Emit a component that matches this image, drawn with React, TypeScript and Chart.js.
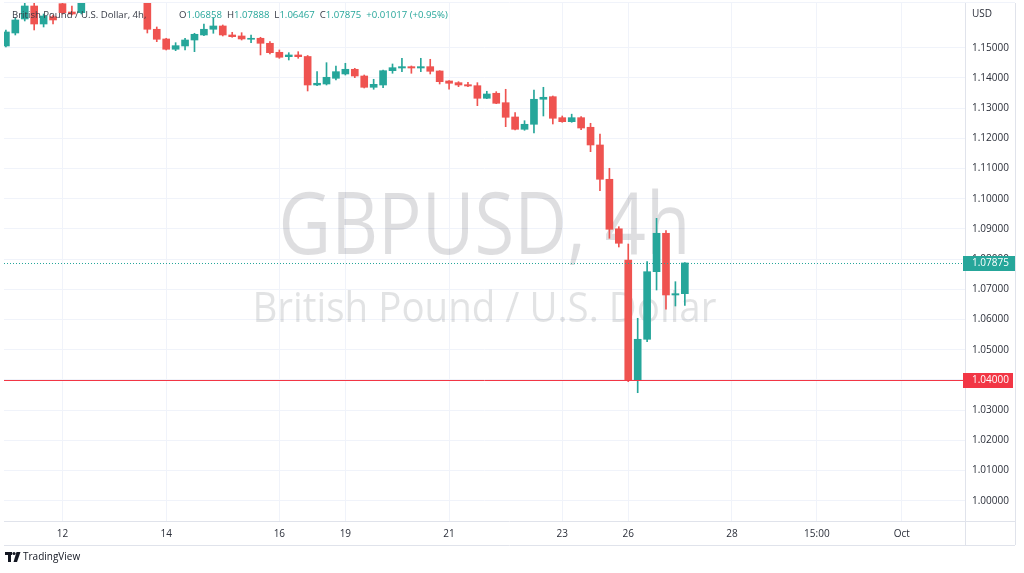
import React, { useEffect, useRef } from 'react';
import { Chart, registerables } from 'chart.js';

Chart.register(...registerables);

// ---- data (GBPUSD, 4h candles) ----
const firstCandleSlot = -66;
const opens = [
  1.1506, 1.1549, 1.15954, 1.16384, 1.15788, 1.1603, 1.1646, 1.16186, 1.16162,
  1.167, 1.1705, 1.1725, 1.1712, 1.17, 1.1695,
  1.1685, 1.15613, 1.15292, 1.14951, 1.1506, 1.15258, 1.15424, 1.15613, 1.15722,
  1.15424, 1.15391, 1.15282, 1.15315, 1.15149, 1.14851, 1.14706, 1.14762,
  1.14712, 1.13768, 1.13801, 1.1399, 1.14133, 1.14288, 1.14066, 1.13692, 1.13768,
  1.14242, 1.14331, 1.14375, 1.14331, 1.14375, 1.14232, 1.13901, 1.13845, 1.13778,
  1.13745, 1.13328, 1.13494, 1.13182, 1.12709, 1.12301, 1.12467, 1.13295, 1.13381,
  1.12686, 1.12553, 1.12686, 1.12368, 1.11782, 1.10646, 1.09007,
  1.07974, 1.0401, 1.05348, 1.07586, 1.08858, 1.06815, 1.06858,
];
const highs = [
  1.1559, 1.15987, 1.1655, 1.16517, 1.16119, 1.16086, 1.165, 1.16384, 1.169,
  1.1712, 1.1738, 1.1735, 1.1725, 1.1715, 1.171,
  1.17, 1.15689, 1.15315, 1.15169, 1.15315, 1.1548, 1.15788, 1.15977, 1.15755,
  1.15513, 1.155, 1.15424, 1.15348, 1.15202, 1.14927, 1.14838, 1.14871,
  1.14745, 1.14209, 1.14507, 1.14398, 1.14487, 1.14321, 1.14099, 1.13957, 1.14265,
  1.14464, 1.14652, 1.14398, 1.14652, 1.14619, 1.14242, 1.13911, 1.13878, 1.13858,
  1.13845, 1.1356, 1.13547, 1.13626, 1.12858, 1.12586, 1.13603, 1.13692, 1.13404,
  1.12742, 1.12802, 1.12719, 1.125, 1.12146, 1.1101, 1.09076,
  1.08503, 1.06043, 1.07917, 1.09354, 1.08944, 1.07255, 1.07888,
];
const lows = [
  1.15027, 1.15424, 1.15888, 1.1559, 1.15689, 1.15788, 1.16119, 1.16086, 1.16119,
  1.1662, 1.1695, 1.17, 1.169, 1.168, 1.1665,
  1.1549, 1.15202, 1.14927, 1.14904, 1.14927, 1.14871, 1.15401, 1.1548, 1.15391,
  1.15348, 1.15258, 1.15169, 1.14762, 1.14795, 1.14652, 1.14596, 1.14652,
  1.1357, 1.13745, 1.13768, 1.13934, 1.14099, 1.1401, 1.13669, 1.13626, 1.13679,
  1.14156, 1.14209, 1.14156, 1.14209, 1.14133, 1.13801, 1.13626, 1.13712, 1.13712,
  1.13083, 1.13315, 1.13149, 1.12388, 1.12278, 1.12268, 1.12179, 1.12742, 1.12477,
  1.12533, 1.12533, 1.12288, 1.1156, 1.10268, 1.08692, 1.08404,
  1.03944, 1.03579, 1.05268, 1.0698, 1.06341, 1.0645, 1.06467,
];
const closes = [
  1.15523, 1.15921, 1.16384, 1.15788, 1.16053, 1.15921, 1.16162, 1.16119, 1.167,
  1.1705, 1.1725, 1.1712, 1.17, 1.1695, 1.1685,
  1.15613, 1.15282, 1.14951, 1.1507, 1.15258, 1.15447, 1.15613, 1.15722, 1.15424,
  1.15368, 1.15292, 1.15315, 1.15149, 1.14838, 1.14686, 1.14762, 1.14706,
  1.13768, 1.13825, 1.14023, 1.14209, 1.14288, 1.14066, 1.13692, 1.13791, 1.14242,
  1.14341, 1.14375, 1.14331, 1.14375, 1.14222, 1.13878, 1.13825, 1.13768, 1.13735,
  1.13328, 1.1347, 1.13162, 1.12699, 1.12301, 1.12467, 1.13295, 1.13361, 1.12666,
  1.12553, 1.12686, 1.12344, 1.11782, 1.10646, 1.0899, 1.08527,
  1.0401, 1.05348, 1.07586, 1.08858, 1.06815, 1.06858, 1.07875,
];

const xTickSlots = [-60, -49, -37, -30, -19, -7, 0, 11, 20, 29];
const xTickLabels = ['12', '14', '16', '19', '21', '23', '26', '28', '15:00', 'Oct'];
const yTickValues = [1.0, 1.01, 1.02, 1.03, 1.04, 1.05, 1.06, 1.07, 1.08, 1.09, 1.1, 1.11, 1.12, 1.13, 1.14, 1.15];
const viewSlotMin = -66.2;
const viewSlotMax = 35.71;
const viewPriceMin = 0.99331;
const viewPriceMax = 1.16483;
const drawnLevel = 1.04;

const symbolTitle = 'British Pound / U.S. Dollar, 4h,';
const watermarkTitle = 'GBPUSD, 4h';
const watermarkSubtitle = 'British Pound / U.S. Dollar';
const axisCurrency = 'USD';
const brandName = 'TradingView';

const UP = '#26a69a';
const DOWN = '#ef5350';
const LEVEL = '#f23645';
const GRID = '#f0f3fa';
const FRAME = '#e0e3eb';
const TEXT = '#2a2e39';
const FONT = '"Open Sans", "Noto Sans", sans-serif';

const candleColors = closes.map((c, i) => (c >= opens[i] ? UP : DOWN));

function drawFitted(ctx: CanvasRenderingContext2D, text: string, size: number, cx: number, baseline: number, width: number, color: string) {
  ctx.save();
  ctx.font = `${size}px ${FONT}`;
  const w = ctx.measureText(text).width;
  ctx.translate(cx, baseline);
  ctx.scale(width / w, 1);
  ctx.fillStyle = color;
  ctx.textAlign = 'center';
  ctx.textBaseline = 'alphabetic';
  ctx.fillText(text, 0, 0);
  ctx.restore();
}

function priceTag(ctx: CanvasRenderingContext2D, y: number, left: number, right: number, text: string, bg: string) {
  ctx.save();
  ctx.fillStyle = bg;
  ctx.fillRect(left, Math.round(y) - 7, right - left, 15);
  ctx.fillStyle = '#ffffff';
  ctx.font = `10px ${FONT}`;
  ctx.textAlign = 'left';
  ctx.textBaseline = 'middle';
  ctx.fillText(text, left + 9, Math.round(y) + 0.5);
  ctx.restore();
}

const decorPlugin = {
  id: 'decor',
  beforeDatasetsDraw(chart: any) {
    const { ctx, chartArea } = chart;
    const cx = (chartArea.left + chartArea.right) / 2;
    ctx.save();
    ctx.beginPath();
    ctx.rect(chartArea.left, chartArea.top, chartArea.right - chartArea.left, chartArea.bottom - chartArea.top);
    ctx.clip();
    drawFitted(ctx, watermarkTitle, 86, cx, 254, 412, 'rgba(19,23,34,0.14)');
    drawFitted(ctx, watermarkSubtitle, 42, cx, 322, 464, 'rgba(19,23,34,0.12)');
    ctx.restore();
  },
  afterDatasetsDraw(chart: any) {
    const { ctx, chartArea, scales } = chart;
    const last = closes[closes.length - 1];
    const yLast = Math.round(scales.y.getPixelForValue(last)) + 0.5;
    const yLevel = Math.round(scales.y.getPixelForValue(drawnLevel)) + 0.5;
    ctx.save();
    ctx.lineWidth = 1;
    ctx.strokeStyle = UP;
    ctx.setLineDash([1, 2]);
    ctx.beginPath();
    ctx.moveTo(chartArea.left, yLast);
    ctx.lineTo(chartArea.right, yLast);
    ctx.stroke();
    ctx.setLineDash([]);
    ctx.strokeStyle = LEVEL;
    ctx.beginPath();
    ctx.moveTo(chartArea.left, yLevel);
    ctx.lineTo(chartArea.right, yLevel);
    ctx.stroke();
    ctx.restore();
  },
  afterDraw(chart: any) {
    const { ctx, chartArea, scales } = chart;
    const L = chartArea.left, R = chartArea.right, T = chartArea.top, B = chartArea.bottom;
    const axisRight = R + 50;
    ctx.save();
    // frame
    ctx.strokeStyle = FRAME;
    ctx.lineWidth = 1;
    ctx.beginPath();
    ctx.moveTo(R + 0.5, T); ctx.lineTo(R + 0.5, B + 24);
    ctx.moveTo(axisRight + 0.5, T); ctx.lineTo(axisRight + 0.5, B + 24);
    ctx.moveTo(L, B + 0.5); ctx.lineTo(axisRight, B + 0.5);
    ctx.moveTo(L, B + 24.5); ctx.lineTo(axisRight, B + 24.5);
    ctx.stroke();
    ctx.strokeStyle = GRID;
    ctx.beginPath();
    ctx.moveTo(L, T - 0.5); ctx.lineTo(axisRight, T - 0.5);
    ctx.stroke();

    // price tags
    const last = closes[closes.length - 1];
    priceTag(ctx, scales.y.getPixelForValue(last), R - 2, axisRight, last.toFixed(5), UP);
    priceTag(ctx, scales.y.getPixelForValue(drawnLevel), R - 2, axisRight - 2, drawnLevel.toFixed(5), LEVEL);

    // currency label
    ctx.font = `10px ${FONT}`;
    ctx.fillStyle = TEXT;
    ctx.textBaseline = 'middle';
    ctx.textAlign = 'left';
    ctx.fillText(axisCurrency, R + 7, 14);

    // legend
    const n = closes.length - 1;
    const o = opens[n], h = highs[n], l = lows[n], c = closes[n];
    const chg = c - closes[n - 1];
    const pct = (chg / closes[n - 1]) * 100;
    const valColor = c >= o ? UP : DOWN;
    ctx.font = `9.6px ${FONT}`;
    ctx.fillStyle = '#363a45';
    ctx.fillText(symbolTitle, L + 8, 15);
    const segs: [string, string][] = [
      ['O', '#363a45'], [o.toFixed(5), valColor], ['  H', '#363a45'], [h.toFixed(5), valColor],
      ['  L', '#363a45'], [l.toFixed(5), valColor], ['  C', '#363a45'], [c.toFixed(5), valColor],
      ['  ' + (chg >= 0 ? '+' : '') + chg.toFixed(5) + ' (' + (pct >= 0 ? '+' : '') + pct.toFixed(2) + '%)', valColor],
    ];
    let x = L + 175;
    for (const [t, col] of segs) {
      ctx.fillStyle = col;
      ctx.fillText(t, x, 15);
      x += ctx.measureText(t).width;
    }

    // brand
    const by = B + 31;
    ctx.fillStyle = '#131722';
    ctx.fillRect(5, by, 7, 3);
    ctx.fillRect(8, by, 3, 10);
    ctx.beginPath();
    ctx.arc(14, by + 1.5, 1.6, 0, Math.PI * 2);
    ctx.fill();
    ctx.beginPath();
    ctx.moveTo(16.5, by); ctx.lineTo(20.5, by); ctx.lineTo(17, by + 10); ctx.lineTo(13.5, by + 10);
    ctx.closePath();
    ctx.fill();
    ctx.font = `10px ${FONT}`;
    ctx.fillText(brandName, 23, by + 5);
    ctx.restore();
  },
};

export default function App() {
  const ref = useRef<HTMLCanvasElement | null>(null);
  useEffect(() => {
    if (!ref.current) return;
    const chart = new Chart(ref.current, {
      type: 'bar',
      data: {
        datasets: [
          {
            label: 'wicks',
            data: lows.map((lo, i) => ({ x: firstCandleSlot + i, y: [lo, highs[i]] })) as any,
            backgroundColor: candleColors,
            barThickness: 1,
            grouped: false,
            order: 2,
          } as any,
          {
            label: 'bodies',
            data: opens.map((op, i) => ({ x: firstCandleSlot + i, y: [op, closes[i]] })) as any,
            backgroundColor: candleColors,
            barThickness: 7,
            minBarLength: 1,
            grouped: false,
            order: 1,
          } as any,
        ],
      },
      options: {
        responsive: false,
        animation: false,
        events: [],
        layout: { padding: { left: 4, top: 3, right: 9, bottom: 28 } },
        plugins: { legend: { display: false }, tooltip: { enabled: false } },
        scales: {
          x: {
            type: 'linear',
            min: viewSlotMin,
            max: viewSlotMax,
            offset: false,
            grid: { color: GRID, drawTicks: false, offset: false },
            border: { display: false },
            afterBuildTicks: (s: any) => {
              s.ticks = xTickSlots.map((v) => ({ value: v }));
            },
            afterFit: (s: any) => {
              s.height = 24;
              s.paddingLeft = 0;
              s.paddingRight = 0;
              s.paddingTop = 0;
              s.paddingBottom = 0;
            },
            ticks: {
              autoSkip: false,
              maxRotation: 0,
              padding: 7,
              color: TEXT,
              font: { family: FONT, size: 10 },
              callback: (v: any) => {
                const k = xTickSlots.indexOf(Number(v));
                return k >= 0 ? xTickLabels[k] : '';
              },
            },
          },
          y: {
            type: 'linear',
            position: 'right',
            min: viewPriceMin,
            max: viewPriceMax,
            grid: { color: GRID, drawTicks: false },
            border: { display: false },
            afterBuildTicks: (s: any) => {
              s.ticks = yTickValues.map((v) => ({ value: v }));
            },
            afterFit: (s: any) => {
              s.width = 50;
              s.paddingTop = 0;
              s.paddingBottom = 0;
              s.paddingLeft = 0;
              s.paddingRight = 0;
            },
            ticks: {
              padding: 7,
              color: TEXT,
              font: { family: FONT, size: 10 },
              callback: (v: any) => Number(v).toFixed(5),
            },
          },
        },
      } as any,
      plugins: [decorPlugin],
    });
    return () => chart.destroy();
  }, []);
  return (
    <div style={{ position: 'absolute', left: 0, top: 0, width: 1024, height: 573, background: '#ffffff' }}>
      <canvas ref={ref} width={1024} height={573} style={{ width: 1024, height: 573, display: 'block' }} />
    </div>
  );
}
